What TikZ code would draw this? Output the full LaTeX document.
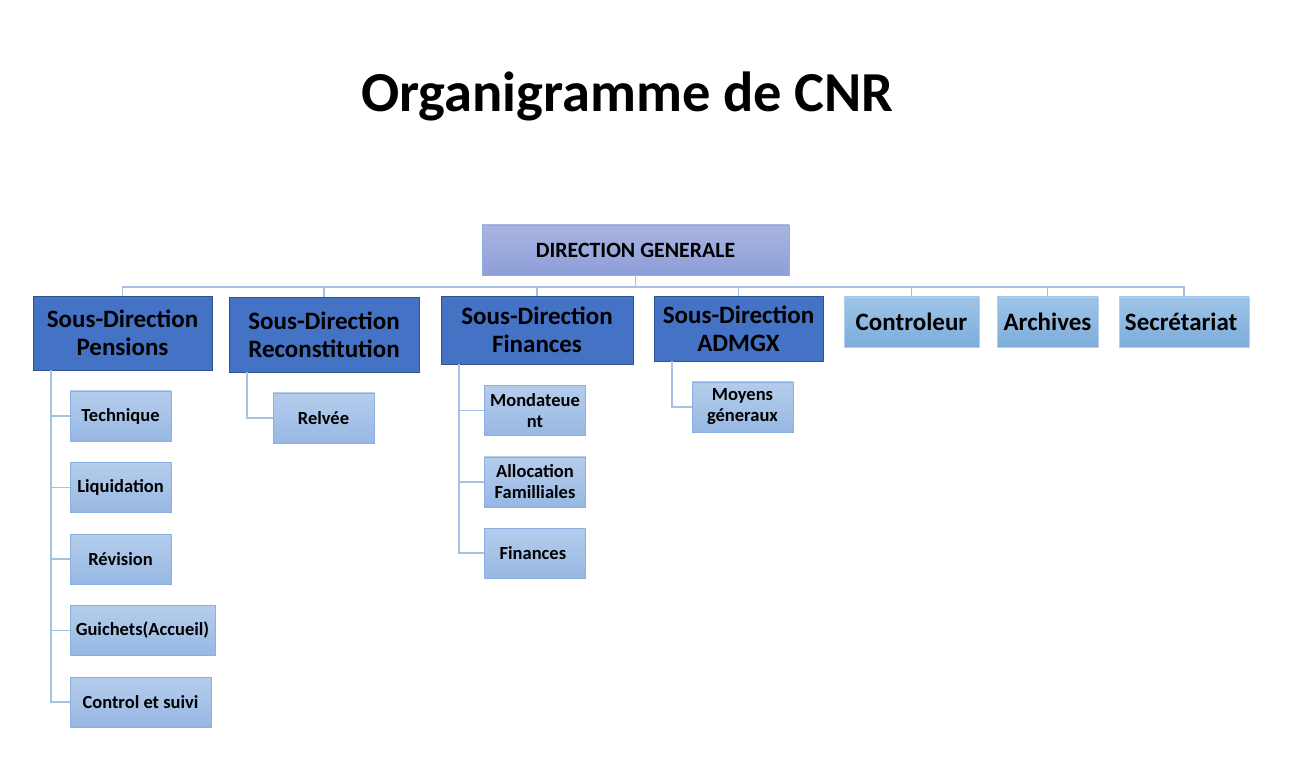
\documentclass[tikz,border=0pt]{standalone}
\usepackage{fontspec}
\setmainfont{Carlito}
\definecolor{sdblue}{HTML}{4472C4}
\definecolor{sdline}{HTML}{2F528F}
\definecolor{dgtop}{HTML}{AAB5E1}
\definecolor{dgbot}{HTML}{8C9ED8}
\definecolor{svctop}{HTML}{9EC4E7}
\definecolor{svcbot}{HTML}{7DADDB}
\definecolor{subtop}{HTML}{B5CDEC}
\definecolor{subbot}{HTML}{97B8E3}
\definecolor{subline}{HTML}{8AB0E0}
\definecolor{linkc}{HTML}{A5C2E6}
\def\busy{287}
\def\stem{18}

\begin{document}
\begin{tikzpicture}[x=1pt, y=-1pt,
    nodes = {font=\bfseries, align=center, inner sep=2pt},
    dgbox/.style = {draw=subline, top color=dgtop, bottom color=dgbot,
      font=\bfseries\fontsize{21.8}{24}\selectfont},
    sdbox/.style = {draw=sdline, fill=sdblue,
      font=\bfseries\fontsize{25}{28}\selectfont},
    svcbox/.style = {draw=svctop!80, top color=svctop, bottom color=svcbot,
      font=\bfseries\fontsize{25}{28}\selectfont},
    subbox/.style = {draw=subline, top color=subtop, bottom color=subbot,
      font=\bfseries\fontsize{18.5}{21}\selectfont},
    link/.style = {draw=linkc, line width=1.5pt}]
  \fill[white] (0,0) rectangle (1291,775);
  \useasboundingbox (0,0) rectangle (1291,775);

  \node[anchor=base, font=\bfseries\fontsize{56.5}{60}\selectfont] (title)
    at (627.5,112) {Organigramme de CNR};

  \node[dgbox, minimum width=307, minimum height=50] (dg) at (635.5,250)
    {DIRECTION GENERALE};

  \foreach \name/\x/\y/\w/\h/\lbl in {
      pen/122.5/333/179/74/Pensions,
      rec/324/334.5/190/75/Reconstitution,
      fin/537/330/192/68/Finances,
      adm/738.5/328.5/169/65/ADMGX
    } {
      \node[sdbox, minimum width=\w, minimum height=\h] (\name) at (\x,\y)
        {Sous-Direction\\\lbl};
    };

  \foreach \name/\x/\w/\lbl in {
      ctl/911.5/135/Controleur,
      arc/1047.5/101/Archives,
      sec/1184/130/Secrétariat
    } {
      \node[svcbox, minimum width=\w, minimum height=50] (\name) at (\x,322) {\lbl};
    };

  \foreach \name/\x/\y/\w/\lbl in {
      tec/120.5/416/101/Technique,
      liq/120.5/487.5/101/Liquidation,
      rev/120.5/559/101/Révision,
      gui/142.5/630.5/145/Guichets(Accueil),
      ctr/140.5/702/141/Control et suivi,
      rel/323.5/418/101/Relvée,
      fis/535/553/101/Finances
    } {
      \node[subbox, minimum width=\w, minimum height=50] (\name) at (\x,\y) {\lbl};
    };

  \foreach \name/\x/\y/\lbl/\lblb in {
      mon/535/410.5/Mondateue/nt,
      alc/535/482/Allocation/Familliales,
      moy/742.5/407/Moyens/géneraux
    } {
      \node[subbox, minimum width=101, minimum height=50] (\name) at (\x,\y)
        {\lbl\\\lblb};
    };

  \coordinate (bus) at (dg.south |- 0,\busy);
  \draw[link] (dg.south) -- (bus);
  \foreach \name in {pen,rec,fin,adm,ctl,arc,sec}
    \draw[link] (bus) -| (\name.north);

  \foreach \parent/\child in {pen/tec, pen/liq, pen/rev, pen/gui, pen/ctr,
      rec/rel, fin/mon, fin/alc, fin/fis, adm/moy}
    \draw[link] ([xshift=\stem]\parent.south west) |- (\child.west);
\end{tikzpicture}
\end{document}
